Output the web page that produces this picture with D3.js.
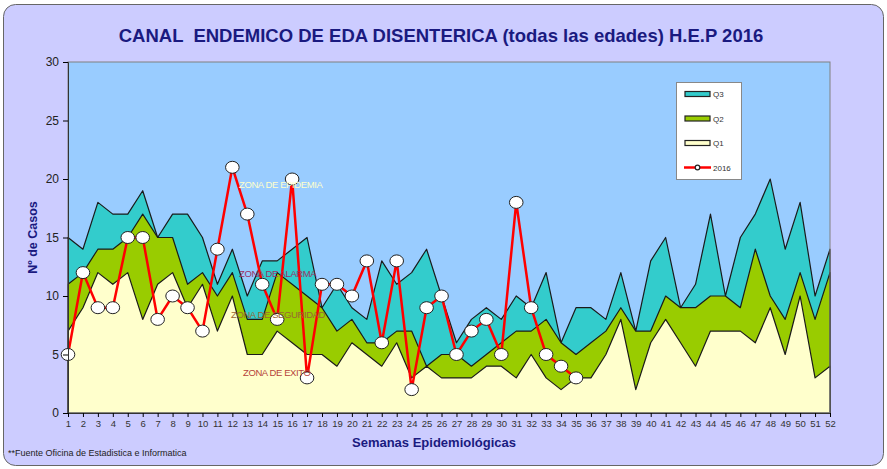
<!DOCTYPE html>
<html>
<head>
<meta charset="utf-8">
<script src="https://cdn.jsdelivr.net/npm/d3@7"></script>
<style>
  body { margin: 0; background: #fff; }
  svg { display: block; font-family: "Liberation Sans", Arial, sans-serif; }
</style>
</head>
<body>
<div id="chart"></div>
<script>
// semanas epidemiologicas
const semanas = d3.range(1, 53);
const q3 = [15,14,18,17,17,19,15,17,17,15,11,14,10,13,13,14,15,9,11,9,8,13,11,12,14,10,6,8,9,8,10,9,12,6,9,9,8,12,7,13,15,9,11,17,10,15,17,20,14,18,10,14];
const q2 = [11,12,14,14,15,17,15,15,11,12,10,12,8,8,12,11,10,9,7,8,6,6,7,7,4,5,5,4,5,6,7,7,8,6,5,6,7,9,7,7,10,9,9,10,10,9,14,10,8,12,8,12];
const q1 = [7,9,12,11,12,8,11,12,9,11,7,10,5,5,7,6,5,5,4,6,5,4,6,3,4,3,3,3,4,4,3,5,3,2,3,3,5,8,2,6,8,6,4,7,7,7,6,9,5,10,3,4];
const casos2016 = [5,12,9,9,15,15,8,10,9,7,14,21,17,11,8,20,3,11,11,10,13,6,13,2,9,10,5,7,8,5,18,9,5,4,3];
const yTicks = [0,5,10,15,20,25,30];

const W = 887, H = 469;
const margin = { top: 62, right: 57, bottom: 56, left: 68 };
const width = W - margin.left - margin.right;
const height = H - margin.top - margin.bottom;

const svg = d3.select("#chart").append("svg")
    .attr("width", W)
    .attr("height", H);

// marco exterior
svg.append("rect")
    .attr("x", 3.5).attr("y", 4.5)
    .attr("width", W - 7).attr("height", H - 8)
    .attr("rx", 12)
    .attr("fill", "#ccccff")
    .attr("stroke", "#666");

svg.append("text")
    .attr("x", 441)
    .attr("y", 42)
    .attr("text-anchor", "middle")
    .attr("font-size", 18.5)
    .attr("font-weight", "bold")
    .attr("fill", "#1a1a80")
    .attr("xml:space", "preserve")
    .text("CANAL  ENDEMICO DE EDA DISENTERICA (todas las edades) H.E.P 2016");

const g = svg.append("g")
    .attr("transform", `translate(${margin.left},${margin.top})`);

const x = d3.scaleLinear().domain([1, 52]).range([0, width]);
const y = d3.scaleLinear().domain([0, 30]).range([height, 0]);

g.append("rect")
    .attr("width", width).attr("height", height)
    .attr("fill", "#99ccff");

// areas Q3, Q2, Q1
const series = [
    { name: "Q3", values: q3, color: "#33cccc" },
    { name: "Q2", values: q2, color: "#99cc00" },
    { name: "Q1", values: q1, color: "#ffffcc" }
];

const area = d3.area()
    .x((d, i) => x(semanas[i]))
    .y0(y(0))
    .y1(d => y(d));

series.forEach(s => {
    g.append("path")
        .datum(s.values)
        .attr("d", area)
        .attr("fill", s.color)
        .attr("stroke", "#1a1a1a")
        .attr("stroke-width", 1.2)
        .attr("stroke-linejoin", "round");
});

// etiquetas de zona
const zonas = [
    { t: "ZONA DE EPIDEMIA", x: 239, y: 188, c: "#ffffcc" },
    { t: "ZONA DE ALARMA", x: 239, y: 277, c: "#993366" },
    { t: "ZONA DE SEGURIDAD", x: 231, y: 318, c: "#996633" },
    { t: "ZONA DE EXITO", x: 243, y: 376, c: "#b5423a" }
];
svg.selectAll(".zona")
    .data(zonas)
    .enter().append("text")
    .attr("class", "zona")
    .attr("x", d => d.x)
    .attr("y", d => d.y)
    .attr("font-size", 9.5)
    .attr("letter-spacing", -0.4)
    .attr("fill", d => d.c)
    .text(d => d.t);

// borde del area de trazado
g.append("rect")
    .attr("width", width).attr("height", height)
    .attr("fill", "none")
    .attr("stroke", "#808080");

// linea 2016
const line = d3.line()
    .x((d, i) => x(semanas[i]))
    .y(d => y(d));

g.append("path")
    .datum(casos2016)
    .attr("d", line)
    .attr("fill", "none")
    .attr("stroke", "#ff0000")
    .attr("stroke-width", 2.5);

g.selectAll(".pt")
    .data(casos2016)
    .enter().append("ellipse")
    .attr("class", "pt")
    .attr("cx", (d, i) => x(semanas[i]))
    .attr("cy", d => y(d))
    .attr("rx", 6.8)
    .attr("ry", 6)
    .attr("fill", "#fff")
    .attr("stroke", "#222")
    .attr("stroke-width", 1);

// ejes
const yAxis = g.append("g")
    .call(d3.axisLeft(y).tickValues(yTicks).tickSize(5).tickPadding(4));
yAxis.select(".domain").attr("stroke", "#333");
yAxis.selectAll("text").attr("font-size", 12).attr("fill", "#222").attr("font-family", "Liberation Sans, Arial");

const xAxis = g.append("g")
    .attr("transform", `translate(0,${height})`)
    .call(d3.axisBottom(x).tickValues(semanas).tickFormat(d3.format("d")).tickSize(4).tickPadding(3));
xAxis.select(".domain").attr("stroke", "#333");
xAxis.selectAll("text").attr("font-size", 9.5).attr("fill", "#333")
    .attr("font-family", "Liberation Sans Narrow, Arial Narrow, sans-serif");

svg.append("text")
    .attr("transform", `translate(37,${margin.top + height / 2}) rotate(-90)`)
    .attr("text-anchor", "middle")
    .attr("font-size", 12.5)
    .attr("font-weight", "bold")
    .attr("fill", "#1a1a80")
    .text("Nº de Casos");

svg.append("text")
    .attr("x", 434)
    .attr("y", 447)
    .attr("text-anchor", "middle")
    .attr("font-size", 13)
    .attr("font-weight", "bold")
    .attr("fill", "#1a1a80")
    .attr("font-family", "Liberation Sans Narrow, Arial Narrow, sans-serif")
    .text("Semanas Epidemiológicas");

svg.append("text")
    .attr("x", 8)
    .attr("y", 456)
    .attr("font-size", 9)
    .attr("fill", "#222")
    .attr("font-family", "Liberation Sans Narrow, Arial Narrow, sans-serif")
    .text("**Fuente Oficina de Estadistica e Informatica");

// leyenda
const leg = svg.append("g").attr("transform", "translate(676,82)");
leg.append("rect")
    .attr("x", 0.5).attr("y", 0.5)
    .attr("width", 65).attr("height", 97)
    .attr("fill", "#fff")
    .attr("stroke", "#888");

const legItems = series.concat([{ name: "2016", color: "#ff0000", isLine: true }]);
legItems.forEach((s, i) => {
    const ly = 12 + i * 24.5;
    if (s.isLine) {
        leg.append("line")
            .attr("x1", 8).attr("x2", 35)
            .attr("y1", ly).attr("y2", ly)
            .attr("stroke", s.color).attr("stroke-width", 2.5);
        leg.append("circle")
            .attr("cx", 21.5).attr("cy", ly).attr("r", 2.3)
            .attr("fill", "#fff").attr("stroke", "#222").attr("stroke-width", 1.2);
    } else {
        leg.append("rect")
            .attr("x", 9).attr("y", ly - 2.5)
            .attr("width", 25).attr("height", 5)
            .attr("fill", s.color)
            .attr("stroke", "#222").attr("stroke-width", 1.2);
    }
    leg.append("text")
        .attr("x", 37).attr("y", ly + 3)
        .attr("font-size", 8)
        .attr("fill", "#333")
        .text(s.name);
});
</script>
</body>
</html>
